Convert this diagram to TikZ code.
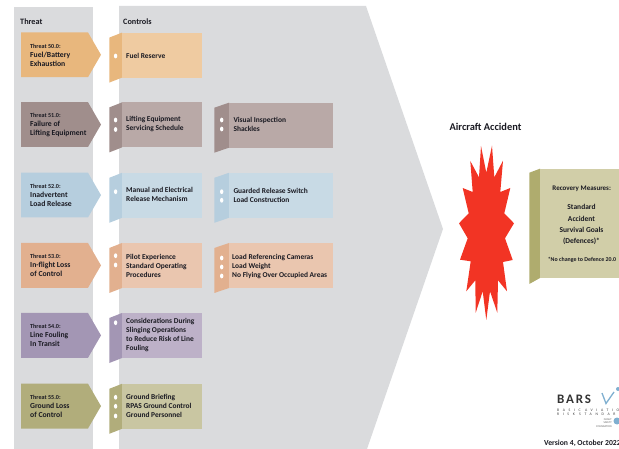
\documentclass[tikz,border=0pt]{standalone}
\usepackage{fontspec}
\setmainfont{Carlito}
\definecolor{panel}{HTML}{DADBDD}
\definecolor{ink}{HTML}{1A1A22}
\definecolor{tA}{HTML}{E8B77D}\definecolor{cA}{HTML}{EFCBA1}
\definecolor{tB}{HTML}{A08E8C}\definecolor{cB}{HTML}{B9A9A7}
\definecolor{tC}{HTML}{B6CEDE}\definecolor{cC}{HTML}{C8DAE5}
\definecolor{tD}{HTML}{E2B08F}\definecolor{cD}{HTML}{EAC6AF}
\definecolor{tE}{HTML}{A396B4}\definecolor{cE}{HTML}{BDB1C8}
\definecolor{tF}{HTML}{B1AD7B}\definecolor{cF}{HTML}{C9C6A2}
\definecolor{rtab}{HTML}{AFAC6E}\definecolor{rbody}{HTML}{D1CEA8}
\definecolor{blast}{HTML}{F23424}
\definecolor{logoblue}{HTML}{7FAFD0}
\tikzset{
  txt/.style={inner sep=0pt,align=left,text=ink,font=\fontsize{7.7}{9}\selectfont\bfseries},
  ctxt/.style={txt,anchor=west,font=\fontsize{7.45}{9}\selectfont\bfseries},
  head/.style={inner sep=0pt,anchor=west,text=ink,font=\fontsize{8.2}{9}\selectfont\bfseries},
  hole/.style={fill=white,draw=none},
  small/.style={inner sep=0pt,text=ink,font=\fontsize{5.9}{6}\selectfont\bfseries},
}
\newcommand{\thr}[4]{% colour, top, label, lines
  \fill[#1] (21,#2) -- (88,#2) -- (101,#2+22.4) -- (88,#2+44.8) -- (21,#2+44.8) -- cycle;
  \node[txt,anchor=west] (th#1) at (30,#2+22.6) {{\fontsize{6.1}{9}\selectfont #3}\\#4};
}
\newcommand{\ctl}[7]{% colour tab, colour body, left, tabx, right, top, id
  \fill[#1] (#3,#6+5) -- (#4,#6) -- (#4,#6+45) -- (#3,#6+50) -- cycle;
  \fill[#2] (#4,#6) rectangle (#5,#6+45);
}
\newcommand{\dotat}[2]{\fill[hole] (#1,#2) ellipse [x radius=1.7,y radius=2.4];}
\begin{document}
\begin{tikzpicture}[x=1pt,y=-1pt]
\useasboundingbox (0,0) rectangle (619,449);
\fill[panel] (14,7) rectangle (93,449);
\fill[panel] (119,6) -- (366,6) -- (443,229) -- (367,449) -- (119,449) -- cycle;
\node[head] (hthreat) at (20,22) {Threat};
\node[head] (hcontrols) at (123,22) {Controls};
% threats
\thr{tA}{32.4}{Threat 50.0:}{Fuel/Battery\\Exhaustion}
\thr{tB}{102.2}{Threat 51.0:}{Failure of\\Lifting Equipment}
\thr{tC}{172.7}{Threat 52.0:}{Inadvertent\\Load Release}
\thr{tD}{243}{Threat 53.0:}{In-flight Loss\\of Control}
\thr{tE}{313}{Threat 54.0:}{Line Fouling\\In Transit}
\thr{tF}{383.7}{Threat 55.0:}{Ground Loss\\of Control}
% first controls
\ctl{tA}{cA}{109.3}{122}{202.3}{32.6}{a}
\ctl{tB}{cB}{109.3}{122}{202.3}{102.4}{b}
\ctl{tC}{cC}{109.3}{122}{202.3}{172.8}{c}
\ctl{tD}{cD}{109.3}{122}{202.3}{243}{d}
\ctl{tE}{cE}{109.3}{122}{202.3}{313}{e}
\ctl{tF}{cF}{109.3}{122}{202.3}{383.8}{f}
% second controls
\ctl{tB}{cB}{214.3}{229}{333.3}{102.7}{g}
\ctl{tC}{cC}{214.3}{229}{333.3}{172.8}{h}
\ctl{tD}{cD}{214.3}{229}{333.3}{243}{i}
% bullets
\foreach \y in {56,120,129.5,191.7,255.7,265,322.7,397.3,406.3,416}{\dotat{115.6}{\y}}
\foreach \y in {120,129,191.7,200.3,258,267,276}{\dotat{221.7}{\y}}
% control text
\node[ctxt] (c1) at (126,56) {Fuel Reserve};
\node[ctxt] (c2) at (126,124.5) {Lifting Equipment\\Servicing Schedule};
\node[ctxt] (c3) at (126,194.5) {Manual and Electrical\\Release Mechanism};
\node[ctxt] (c4) at (126,265.5) {Pilot Experience\\Standard Operating\\Procedures};
\node[ctxt] (c5) at (126,335) {Considerations During\\Slinging Operations\\to Reduce Risk of Line\\Fouling};
\node[ctxt] (c6) at (126,406) {Ground Briefing\\RPAS Ground Control\\Ground Personnel};
\node[ctxt] (d2) at (233.3,124.5) {Visual Inspection\\Shackles};
\node[ctxt] (d3) at (233.3,195) {Guarded Release Switch\\Load Construction};
\node[ctxt] (d4) at (232,267) {Load Referencing Cameras\\Load Weight\\No Flying Over Occupied Areas};
% accident
\node[inner sep=0pt,text=ink,font=\fontsize{10.4}{11}\selectfont\bfseries] (acc) at (485.5,127) {Aircraft Accident};
\fill[blast] (481,146) -- (486.3,172.7) -- (492,145.7) -- (494.3,177.3) -- (503,160.7) -- (500.3,192) -- (510.3,188) -- (504.3,213.3) -- (514,223.3) -- (505,238.3) -- (512.7,260) -- (503,262) -- (507,291.3) -- (498,280.3) -- (497.3,312.7) -- (490,291.3) -- (486.3,320) -- (482.7,291.3) -- (475.7,312.7) -- (475.3,280.3) -- (466.3,291.3) -- (470.7,261.3) -- (460,259.7) -- (467.7,238.3) -- (459,223.3) -- (468.7,213.3) -- (462.7,188) -- (472.7,192) -- (470.3,161) -- (479,177.3) -- cycle;
% recovery
\fill[rtab] (529.3,172.7) -- (540,168.7) -- (540,278) -- (529.3,284) -- cycle;
\fill[rbody] (540,168.7) rectangle (619,278);
\node[small,font=\fontsize{7}{7}\selectfont\bfseries] (r1) at (581.7,188.7) {Recovery Measures:};
\node[inner sep=0pt,align=center,text=ink,font=\fontsize{7.5}{11.1}\selectfont\bfseries] (r2) at (581.5,224.5) {Standard\\Accident\\Survival Goals\\(Defences)*};
\node[small] (r3) at (582,260) {*No change to Defence 20.0};
% logo
\node[inner sep=0pt,anchor=west,text=black!80,font=\fontsize{13}{13}\selectfont\bfseries\addfontfeature{LetterSpace=14}] (bars) at (557,399) {BARS};
\draw[logoblue,line width=1.3pt] (602,393) -- (606,403.5) -- (614,392);
\fill[logoblue] (618,389) circle (2);
\node[inner sep=0pt,anchor=west,align=left,text=black!75,font=\fontsize{3.8}{4.2}\selectfont\addfontfeature{LetterSpace=95}] (bas) at (557,412) {BASIC AVIATION\\RISK STANDARDS};
\node[inner sep=0pt,align=right,anchor=east,text=black!60,font=\fontsize{2.8}{3.2}\selectfont] (fsf) at (612,423) {FLIGHT\\SAFETY\\FOUNDATION};
\fill[logoblue] (617,421) circle (3.5);
\node[inner sep=0pt,anchor=west,text=ink,font=\fontsize{7.7}{8}\selectfont\bfseries] (ver) at (544,443) {Version 4, October 2022};
\end{tikzpicture}
\end{document}
